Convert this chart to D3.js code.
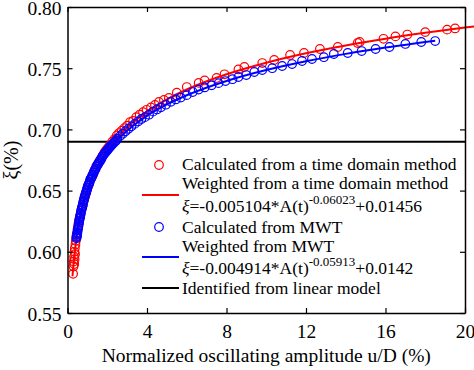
<!DOCTYPE html>
<html>
<head>
<meta charset="utf-8">
<script src="https://cdn.jsdelivr.net/npm/d3@7"></script>
<style>
  body { margin: 0; background: #fff; }
  svg { display: block; font-family: "Liberation Serif", "Times New Roman", serif; }
</style>
</head>
<body>
<script>
// values
const xTicks = [0, 4, 8, 12, 16, 20];
const yTicks = [0.55, 0.60, 0.65, 0.70, 0.75, 0.80];

// calculated from a time domain method (red circles)
const redX = [0.28, 0.30, 0.31, 0.33, 0.34, 0.35, 0.36, 0.37, 0.38, 0.40, 0.42, 0.44, 0.46,
  0.48, 0.50, 0.53, 0.55, 0.58, 0.60, 0.63, 0.66, 0.70, 0.73, 0.76, 0.80, 0.84, 0.88, 0.92, 0.96,
  1.00, 1.05, 1.10, 1.15, 1.20, 1.26, 1.32, 1.38, 1.45, 1.52, 1.60, 1.68, 1.76, 1.85, 1.94,
  2.04, 2.14, 2.25, 2.36, 2.48, 2.60, 2.73, 2.86, 3.00, 3.15, 3.30, 3.46, 3.63, 3.80, 3.98,
  4.2, 4.4, 4.6, 4.85, 5.1, 5.5, 6.0, 6.6, 6.9, 7.5, 7.9, 8.6, 8.9, 9.8, 10.4, 11.2, 11.9,
  12.7, 13.6, 14.6, 14.7, 15.9, 16.5, 17.1, 18.0, 19.1, 19.5];
const redY = [0.582, 0.588, 0.592, 0.596, 0.590, 0.600, 0.594, 0.603, 0.598, 0.606, 0.609, 0.612, 0.614,
  0.615, 0.618, 0.620, 0.623, 0.625, 0.627, 0.629, 0.631, 0.634, 0.636, 0.638, 0.641, 0.643, 0.645, 0.648, 0.650,
  0.652, 0.654, 0.656, 0.659, 0.660, 0.663, 0.665, 0.667, 0.670, 0.671, 0.674, 0.676, 0.678, 0.681, 0.683,
  0.685, 0.687, 0.690, 0.692, 0.695, 0.697, 0.699, 0.701, 0.703, 0.706, 0.707, 0.710, 0.712, 0.714, 0.716,
  0.718, 0.720, 0.7224, 0.724, 0.7257, 0.730, 0.7346, 0.738, 0.740, 0.742, 0.745, 0.749, 0.751, 0.7542, 0.7567, 0.7608, 0.7624,
  0.7657, 0.7673, 0.7706, 0.7714, 0.774, 0.776, 0.7775, 0.7795, 0.7815, 0.7825];

// weighted curve, time domain method (red line)
const redFitX = [0.25, 0.3, 0.4, 0.5, 0.6, 0.8, 1.0, 1.25, 1.5, 2, 2.5, 3, 4, 5, 6, 8, 10, 12, 14, 16, 18, 20, 20.5];
const redFitY = [0.580, 0.5895, 0.6044, 0.6158, 0.6250, 0.6392, 0.6501, 0.6609, 0.6696, 0.6831, 0.6934, 0.7018,
  0.7147, 0.7246, 0.7326, 0.7450, 0.7545, 0.7622, 0.7686, 0.7741, 0.7789, 0.7832, 0.7842];

// calculated from MWT (blue circles)
const blueX = [0.45, 0.46, 0.47, 0.48, 0.49, 0.50, 0.52, 0.535, 0.55, 0.565, 0.58, 0.595, 0.61, 0.625, 0.64,
  0.655, 0.67, 0.69, 0.71, 0.73, 0.75, 0.77, 0.79, 0.81, 0.83, 0.855, 0.88, 0.905, 0.93, 0.955, 0.98,
  1.005, 1.03, 1.06, 1.09, 1.12, 1.15, 1.18, 1.21, 1.245, 1.28, 1.315, 1.35, 1.385, 1.42, 1.46, 1.50,
  1.54, 1.58, 1.625, 1.67, 1.715, 1.76, 1.805, 1.85, 1.9, 1.95, 2.0, 2.05, 2.1, 2.16, 2.21, 2.27, 2.33,
  2.39, 2.45, 2.51, 2.64, 2.78, 2.92, 3.07, 3.22, 3.38, 3.55, 3.72, 3.9, 4.1, 4.3, 4.5, 4.7, 4.95, 5.2,
  5.45, 5.7, 6.0, 6.3, 6.6, 6.9, 7.25, 7.6, 7.95, 8.3, 8.6, 9.0, 9.4, 9.8, 10.3, 10.8, 11.3, 11.8, 12.3,
  12.9, 13.4, 14.1, 14.8, 15.5, 16.2, 17.0, 17.8, 18.5];
const blueY = [0.611, 0.612, 0.613, 0.614, 0.615, 0.616, 0.618, 0.6195, 0.621, 0.6225, 0.624, 0.6255, 0.627, 0.628, 0.629,
  0.6305, 0.632, 0.6335, 0.635, 0.636, 0.637, 0.6385, 0.640, 0.6415, 0.643, 0.6445, 0.646, 0.647, 0.648, 0.6495, 0.651,
  0.6525, 0.654, 0.655, 0.656, 0.6575, 0.659, 0.660, 0.661, 0.662, 0.663, 0.6645, 0.666, 0.667, 0.668, 0.6695, 0.671,
  0.672, 0.673, 0.674, 0.675, 0.6765, 0.678, 0.679, 0.680, 0.681, 0.682, 0.683, 0.684, 0.685, 0.686, 0.687, 0.688, 0.689,
  0.690, 0.691, 0.6925, 0.6945, 0.6965, 0.6985, 0.7005, 0.7025, 0.7045, 0.7065, 0.7085, 0.710, 0.712, 0.7145, 0.7163, 0.718, 0.7202, 0.7225,
  0.7245, 0.726, 0.728, 0.7305, 0.7325, 0.7343, 0.736, 0.7378, 0.7395, 0.741, 0.7428, 0.7444, 0.7469, 0.7485, 0.750, 0.7518, 0.7534, 0.7559, 0.7575,
  0.759, 0.7616, 0.7624, 0.764, 0.7657, 0.7673, 0.7698, 0.7714, 0.7722];

// weighted curve, MWT (blue line)
const blueFitX = [0.43, 0.5, 0.6, 0.8, 1.0, 1.25, 1.5, 2, 2.5, 3, 4, 5, 6, 8, 10, 12, 14, 16, 18.5];
const blueFitY = [0.6112, 0.6184, 0.6270, 0.6404, 0.6506, 0.6607, 0.6688, 0.6815, 0.6912, 0.6990, 0.7111,
  0.7204, 0.7279, 0.7396, 0.7485, 0.7557, 0.7617, 0.7669, 0.7725];

// identified from linear model
const linearXi = 0.69;

const W = 474, H = 370;
const margin = {left: 67.5, right: 9, top: 7, bottom: 57};

const svg = d3.select("body").append("svg")
  .attr("width", W)
  .attr("height", H);

const x = d3.scaleLinear().domain([0, 20]).range([margin.left, W - margin.right]);
const y = d3.scaleLinear().domain([0.55, 0.80]).range([H - margin.bottom, margin.top]);

const red = "#ff0000", blue = "#0000ff";

// black horizontal line first, curves go over it
svg.append("line")
  .attr("x1", x(0)).attr("x2", x(20))
  .attr("y1", y(linearXi)).attr("y2", y(linearXi))
  .attr("stroke", "#000").attr("stroke-width", 2);

const line = d3.line()
  .x(d => x(d[0]))
  .y(d => y(d[1]))
  .curve(d3.curveMonotoneX);

function drawSeries(xs, ys, fx, fy, col) {
  svg.append("g").selectAll("circle")
    .data(d3.zip(xs, ys))
    .enter()
    .append("circle")
    .attr("cx", d => x(d[0]))
    .attr("cy", d => y(d[1]))
    .attr("r", 4.3)
    .attr("fill", "none")
    .attr("stroke", col)
    .attr("stroke-width", 1.2);
  svg.append("path")
    .datum(d3.zip(fx, fy))
    .attr("d", line)
    .attr("fill", "none")
    .attr("stroke", col)
    .attr("stroke-width", 2);
}
drawSeries(redX, redY, redFitX, redFitY, red);
drawSeries(blueX, blueY, blueFitX, blueFitY, blue);

// axes (box with inward ticks)
const fmt = d3.format(".2f");
const axBottom = svg.append("g")
  .attr("transform", `translate(0,${y(0.55)})`)
  .call(d3.axisBottom(x).tickValues(xTicks).tickSizeInner(-5).tickSizeOuter(0).tickPadding(11));
const axLeft = svg.append("g")
  .attr("transform", `translate(${x(0)},0)`)
  .call(d3.axisLeft(y).tickValues(yTicks).tickFormat(fmt).tickSizeInner(-5).tickSizeOuter(0).tickPadding(6));
const axTop = svg.append("g")
  .attr("transform", `translate(0,${y(0.80)})`)
  .call(d3.axisTop(x).tickValues(xTicks).tickFormat("").tickSizeInner(-5).tickSizeOuter(0));
const axRight = svg.append("g")
  .attr("transform", `translate(${x(20)},0)`)
  .call(d3.axisRight(y).tickValues(yTicks).tickFormat("").tickSizeInner(-5).tickSizeOuter(0));

[axBottom, axLeft, axTop, axRight].forEach(g => {
  g.select(".domain").attr("stroke", "#000").attr("stroke-width", 1.5);
  g.selectAll(".tick line").attr("stroke", "#000").attr("stroke-width", 1.2);
  g.selectAll("text")
    .attr("font-family", "Liberation Serif")
    .attr("font-size", 19.5)
    .attr("fill", "#000");
});
// keep the top label inside the picture
axLeft.selectAll(".tick text").attr("dy", "0.36em");

// axis titles
svg.append("text")
  .attr("x", (x(0) + x(20)) / 2)
  .attr("y", 362)
  .attr("text-anchor", "middle")
  .attr("font-size", 19.5)
  .text("Normalized oscillating amplitude u/D (%)");

svg.append("text")
  .attr("transform", `translate(18,${(y(0.55) + y(0.80)) / 2}) rotate(-90)`)
  .attr("text-anchor", "middle")
  .attr("font-size", 20)
  .text("ξ(%)");

// legend
const lg = svg.append("g").attr("font-size", 17.5);
const tx = 182;

function addLine(yb, txt) {
  return lg.append("text").attr("x", tx).attr("y", yb).text(txt);
}
function addFormula(yb, coef, expo, cst) {
  const t = lg.append("text").attr("x", tx).attr("y", yb);
  t.append("tspan").attr("font-style", "italic").text("ξ");
  t.append("tspan").text("=" + coef + "*A(t)");
  t.append("tspan").attr("dy", -8).attr("font-size", 13).text(expo);
  t.append("tspan").attr("dy", 8).text(cst);
}

lg.append("circle").attr("cx", 159).attr("cy", 165).attr("r", 4.3)
  .attr("fill", "none").attr("stroke", red).attr("stroke-width", 1.2);
addLine(170, "Calculated from a time domain method");
lg.append("line").attr("x1", 142).attr("x2", 179).attr("y1", 195).attr("y2", 195)
  .attr("stroke", red).attr("stroke-width", 2);
addLine(189, "Weighted from a time domain method");
addFormula(212, "-0.005104", "-0.06023", "+0.01456");

lg.append("circle").attr("cx", 159).attr("cy", 227).attr("r", 4.3)
  .attr("fill", "none").attr("stroke", blue).attr("stroke-width", 1.2);
addLine(233, "Calculated from MWT");
lg.append("line").attr("x1", 142).attr("x2", 179).attr("y1", 257).attr("y2", 257)
  .attr("stroke", blue).attr("stroke-width", 2);
addLine(252, "Weighted from MWT");
addFormula(274, "-0.004914", "-0.05913", "+0.0142");

lg.append("line").attr("x1", 142).attr("x2", 179).attr("y1", 288).attr("y2", 288)
  .attr("stroke", "#000").attr("stroke-width", 2);
addLine(294, "Identified from linear model");
</script>
</body>
</html>
